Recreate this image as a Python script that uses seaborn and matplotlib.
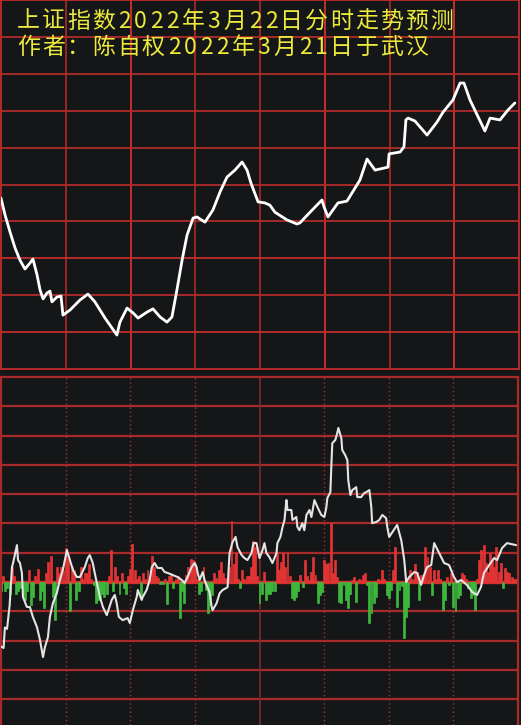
import numpy as np
import pandas as pd
import seaborn as sns
import matplotlib.pyplot as plt

# ---- data ----
# top panel: index path, minutes after the open vs. value in grid units (10 per row)
top_t = [0, 1.9, 4.2, 6.5, 8.8, 11.1, 13.4, 14.8, 16.7, 18.1, 19.5, 21.3, 22.7, 23.6, 25.9,
         27.8, 28.7, 32.0, 36.6, 40.3, 43.5, 48.2, 53.7, 55.1, 58.4, 61.2, 63.5, 67.6, 70.4,
         73.7, 76.9, 79.2, 81.5, 83.9, 86.2, 89.0, 90.8, 94.5, 98.2, 101.5, 104.7, 108.4,
         111.7, 114.0, 115.8, 119.1, 122.3, 124.6, 126.9, 132.5, 137.1, 138.5, 143.2, 148.7,
         149.7, 151.5, 156.1, 160.3, 166.3, 169.6, 173.3, 179.3, 179.8, 184.9, 186.7, 187.6,
         188.6, 191.8, 197.4, 202.0, 204.8, 209.4, 212.7, 214.5, 217.3, 224.2, 226.6, 231.2,
         234.9, 238.1]
top_v = [46.3, 41.7, 37.1, 32.8, 29.5, 27.1, 28.7, 29.8, 25.5, 21.4, 19.0, 20.6, 21.1, 18.2,
         19.5, 19.8, 14.6, 16.0, 18.7, 20.3, 18.2, 13.8, 9.2, 12.7, 16.5, 15.2, 13.8, 15.4,
         16.3, 14.1, 12.7, 14.1, 21.4, 29.5, 36.3, 40.9, 41.2, 39.8, 43.1, 48.0, 52.0, 53.9,
         56.1, 53.9, 50.4, 45.3, 45.0, 44.4, 42.5, 40.4, 39.3, 39.6, 42.5, 45.8, 43.9, 41.2,
         45.0, 45.5, 51.2, 56.9, 53.9, 54.7, 58.3, 58.8, 60.2, 67.5, 68.0, 67.2, 63.4, 66.9,
         69.6, 72.9, 77.5, 77.5, 72.9, 64.5, 68.0, 67.5, 70.2, 72.1]

# bottom panel: white indicator line
bot_t = [0, 1.2, 1.8, 2.8, 4.0, 5.1, 5.6, 7.4, 7.9, 8.8, 9.7, 10.2, 12.0, 13.4, 14.8, 16.7,
         18.1, 19.5, 20.4, 21.8, 22.7, 24.1, 25.9, 27.3, 28.7, 30.6, 32.0, 33.4, 35.2, 36.6,
         38.9, 40.3, 41.2, 42.6, 43.5, 44.5, 45.9, 47.3, 49.1, 51.4, 52.8, 53.7, 54.7, 56.5,
         58.8,
         59.8, 61.2, 63.0, 63.5, 65.3, 65.8, 67.6, 69.0, 70.0, 71.3, 72.7, 74.6, 76.0, 77.4,
         79.7, 82.0, 83.9, 85.2, 86.6, 88.5, 89.9, 90.8, 91.3, 92.2, 93.6, 94.5, 95.4, 96.8,
         97.8, 98.2, 100.1, 101.5, 102.9, 104.7, 105.2, 106.1, 107.5, 108.9, 109.8, 111.7,
         113.0, 114.4, 116.3, 117.2, 118.6,
         120.0, 121.4, 122.3, 123.2, 124.6, 126.0, 127.9, 128.3, 129.7, 130.7, 131.6, 132.5,
         133.0, 134.8, 135.3, 137.1, 137.6, 138.5, 139.9, 140.8, 141.8, 143.2, 144.1, 145.5,
         146.9, 148.7, 150.1, 151.0, 151.5, 152.9, 153.4, 153.8, 155.2, 156.1, 156.6, 158.0,
         158.4, 159.8, 160.8, 161.2, 162.2, 163.1, 164.9, 165.4, 167.2, 168.6, 169.6, 171.0,
         171.9, 172.3, 174.2, 175.6, 177.0, 178.8, 179.3,
         180.2, 183.9, 185.8, 187.2, 188.1, 189.5, 191.8, 193.2, 195.0, 196.4, 197.8, 199.7,
         201.1, 203.4, 205.7, 208.0, 210.3, 211.7, 213.6, 216.3, 218.7, 221.0, 222.8, 224.2,
         226.6, 228.9, 230.3, 232.6, 234.9, 239.1]
bot_v = [-22, -22.5, -15.5, -16, -8, 5.1, 6.5, 12.6, 7.5, 6.5, 3.1, -5.1, -8.5, -8.5, -11.9,
         -15.4, -19.8, -25.6, -22.2, -18.8, -11.9, -7.2, -3.8, 0.7, 4.1, 10.9, 7.5, 4.1, 1.7,
         1.7, 5.1, 8.2, 9.2, 6.5, 3.1, -0.3, -5.1, -8.5, -11.3, -6.1, -4.4, -7.2, -11.9, -13.0,
         -12.3,
         -14.0, -9.6, -5.1, -2.7, -6.1, -5.1, -2.7, 0.7, 5.1, 6.5, 4.8, 4.8, 3.4, 3.1, 2.4,
         1.7, 0.7, -0.3, 1.7, 5.1, 6.5, 5.1, 3.1, 0.7, 3.4, 0.7, -1.0, -3.4, -8.5, -9.6, -7.2,
         -3.8, -2.7, -2.0, -1.7, 9.9, 13.7, 15.4, 11.9, 9.2, 8.2, 7.5, 9.9, 13.3, 13.3,
         8.2, 10.9, 13.3, 9.9, 8.5, 6.5, 9.9, 13.3, 15.4, 18.8, 21.2, 28.0, 24.6, 24.6, 21.2,
         22.2, 18.8, 17.7, 20.1, 17.7, 22.9, 24.6, 22.2, 28.0, 25.6, 22.9, 22.2, 25.3, 28.7,
         30.7, 40.6, 47.4, 48.5, 50.9, 52.6, 49.1, 45.1, 43.3, 41.6, 34.8, 29.7, 31.4, 32.4,
         29.0, 29.0, 30.4, 30.7, 31.4, 25.6, 20.1, 20.5, 21.2, 22.9, 21.8, 18.8,
         15.4, 19.5, 14.3, 7.5, 0, 1.7, 3.4, 3.1, -1.0, 2.4, 5.1, 5.8, 13.3, 9.9, 6.5, 5.8,
         1.7, 0, 0.7, -1.0, -3.4, -4.4, -1.7, 3.1, 5.8, 8.2, 7.5, 11.6, 13.3, 12.6]

# bottom panel: per-minute bars (red up, green down)
bar_vals = [
    -3, 2, -3, -2, -4, 5, 2, -4, -3, -2,
    -4, -6, -3, 4, -8, -5, 2, 4.5, -6, -3,
    -9, 3, 7, 9, -5, -13, 5, 3, 5, 4,
    11.7, 8, -10, 5, 4, -6, -3, 5, 1, 3,
    3, 6, 1, -1, -7, -6, -6, -4, -5, -4,
    2, 11, -3, 5, 2, -4, 3, -2, -4, 2,
    4.6, 13, 4, 1, 2, -5.6, 3, 1, 4, 1.5,
    9, 5, 2, 1.5, -0.5, -0.8, 1, -7.5, 2, 2.4,
    -2, 1, 2, -12.4, -3, -7, 2.4, 5, 8, 7.5,
    6, 1, -4, -3, 5, -2.7, -10.7, -8, -4.4, 3,
    1.5, 4, 7, 3, 1.3, 1, 5, 21, 6, 10,
    1, -2, 4, 1, 2, 2, 5, 14, 12, 2,
    -7, -4, 3.5, -6, -4, -4, -3, -3, 10, 4,
    7, 10, 5, 10, 2, -5.6, -6, -5, -3, 2.4,
    -1.6, 7.5, 2, 0.8, 3.5, 8.6, 2.4, -7, -4.4, -3.3,
    7.5, 6, 6.4, 20, 3, 7.5, 1.8, -6.7, -7.3, -1,
    -6, -9, -4, 0.7, 1.8, -6.7, 1.2, 0.8, 2.4, 3,
    -1, -14, -10.7, -7, -5, 1.2, 0.8, 4, 1, -4.4,
    -5.6, -2.7, 4, 12, -8.4, -2.7, -1.5, -19, -11.8, -8.4,
    4, 1, 6, 3.5, -6, 2.4, 1, 12, 8.6, 5.2,
    -4.4, 4, 1, 4, 1, -9.5, -6, 1.8, -1, 3,
    -8.4, -10, -5.6, -4.4, 3, 2.4, 1, -2.2, -5.6, -4.4,
    -9.5, 1, 7.5, 11, 12.6, 6.4, 3.5, 10, 7.5, 5.2,
    12, 3.5, 6.4, -2.2, 4.7, 3.5, 3, 1.8, 1, 1,
]
minutes = np.arange(len(bar_vals))

title1 = "上证指数2022年3月22日分时走势预测"
title2 = "作者：陈自权2022年3月21日于武汉"

BG = "#151618"
GRID = "#b32a2a"
YELLOW = "#ecea3a"

sns.set_style("dark", {"axes.facecolor": BG, "figure.facecolor": BG})
plt.rcParams["font.family"] = ["Noto Sans CJK SC", "DejaVu Sans"]

W, H = 521, 725
fig = plt.figure(figsize=(W / 100, H / 100), dpi=100)
fig.patch.set_facecolor(BG)

# ---- top panel ----
ax1 = fig.add_axes([1 / W, 1 - 369 / H, 518 / W, 369 / H])
ax1.set_facecolor(BG)
for t in range(30, 240, 30):
    ax1.axvline(t, color="#d33030" if t in (60, 150, 210) else "#a52828", lw=1.3, zorder=1)
for v in range(10, 100, 10):
    ax1.axhline(v, color="#c52d2d" if v in (10, 30) else GRID, lw=1.3, zorder=1)
sns.lineplot(x=top_t, y=top_v, ax=ax1, color="white", lw=2.0, sort=False,
             estimator=None, zorder=3)
ax1.lines[-1].set_solid_joinstyle("round")
ax1.set_xlim(0, 240)
ax1.set_ylim(0, 100)
ax1.set_xticks([])
ax1.set_yticks([])
ax1.set_xlabel("")
ax1.set_ylabel("")
for s in ax1.spines.values():
    s.set_visible(True)
    s.set_color("#c02c2c")
    s.set_linewidth(1.3)

# ---- bottom panel ----
ax2 = fig.add_axes([1 / W, 0, 517 / W, 348 / H])
ax2.set_facecolor(BG)
for v in range(-40, 70, 10):
    if v != 0:
        ax2.axhline(v, color="#a82a2a", lw=1.6, zorder=1)
for t in (30, 60, 90, 150, 180, 210):
    ax2.axvline(t, color="#a83030", lw=1.0, ls=(0, (1, 2)), zorder=1)
ax2.axvline(120, color="#7a2c2c", lw=1.2, zorder=1)
ax2.axhline(0, color="#d33030", lw=2.4, zorder=1.5)

df = pd.DataFrame({"minute": minutes, "value": bar_vals})
df["side"] = np.where(df["value"] >= 0, "up", "down")
sns.barplot(data=df, x="minute", y="value", hue="side",
            palette={"up": "#e23434", "down": "#3db83d"}, native_scale=True,
            width=0.9, dodge=False, legend=False, errorbar=None, saturation=1,
            ax=ax2, zorder=2)
for p in ax2.patches:
    p.set_edgecolor(p.get_facecolor())
    p.set_linewidth(0.5)
sns.lineplot(x=bot_t, y=bot_v, ax=ax2, color="#e4e4e4", lw=1.5, sort=False,
             estimator=None, zorder=3)
ax2.set_xlim(0, 240)
ax2.set_ylim(-48.8, 70)
ax2.set_xticks([])
ax2.set_yticks([])
ax2.set_xlabel("")
ax2.set_ylabel("")
for name, s in ax2.spines.items():
    s.set_visible(name != "bottom")
    s.set_color("#a82a2a")
    s.set_linewidth(1.6)


# ---- titles: fixed-pitch layout, full-width cells for CJK, narrow for digits ----
def draw_title(text, x0, yc):
    x = x0
    for ch in text:
        adv = 16.2 if ch.isascii() else 25.0
        fig.text((x + adv / 2) / W, 1 - yc / H, ch, color=YELLOW, fontsize=16.5,
                 ha="center", va="center")
        x += adv


draw_title(title1, 16, 21)
draw_title(title2, 16, 47)

fig.savefig("out.png", dpi=100, facecolor=BG)
